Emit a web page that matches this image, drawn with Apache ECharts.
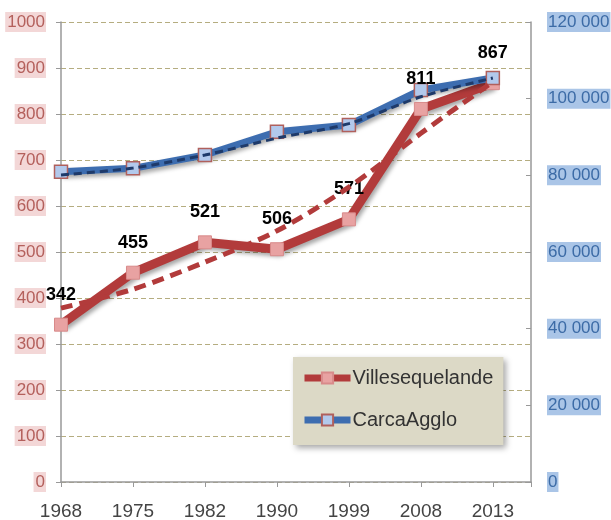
<!DOCTYPE html>
<html><head><meta charset="utf-8">
<script src="https://cdn.jsdelivr.net/npm/echarts@6/dist/echarts.min.js"></script>
<style>html,body{margin:0;padding:0;background:#fff}#c{width:611px;height:520px}</style>
</head><body><div id="c"></div>
<script>
var years = ['1968','1975','1982','1990','1999','2008','2013'];
var villeValues = [342, 455, 521, 506, 571, 811, 867];
var villeTrend = [378, 419, 478, 546, 641, 758, 870];
var aggloValues = [80950, 81830, 85300, 91380, 93130, 102260, 105390];
var aggloTrend = [80100, 81900, 85300, 89700, 93500, 100500, 105400];
var leftTicks = [0,100,200,300,400,500,600,700,800,900,1000];
var rightTicks = ['0','20 000','40 000','60 000','80 000','100 000','120 000'];

function pairs(arr){ return arr.map(function(v,i){ return [i, v]; }); }
var font = 'Liberation Sans';
var shadow = {shadowColor:'rgba(0,0,0,0.35)', shadowBlur:4, shadowOffsetX:2, shadowOffsetY:3};

var chart = echarts.init(document.getElementById('c'), null, {renderer:'canvas'});
chart.setOption({
  animation:false,
  backgroundColor:'#ffffff',
  grid:{left:61, right:80, top:22, bottom:38, outerBoundsMode:'none', containLabel:false},
  legend:{
    data:[
      {name:'Villesequelande', lineStyle:{width:7}},
      {name:'CarcaAgglo', lineStyle:{width:7}}
    ],
    orient:'vertical', left:293, top:357,
    padding:[11,10,15,8], itemGap:22, itemWidth:46, itemHeight:14,
    backgroundColor:'#dcd9c6',
    shadowColor:'rgba(0,0,0,0.35)', shadowBlur:6, shadowOffsetX:3, shadowOffsetY:3,
    textStyle:{fontFamily:font, fontSize:20, color:'#333', padding:[0,0,0,-3]}
  },
  xAxis:{
    type:'value', min:0, max:6.53, interval:1,
    axisLine:{lineStyle:{color:'#999', width:1.5}},
    axisTick:{length:5, lineStyle:{color:'#999'}},
    splitLine:{show:false},
    axisLabel:{margin:20, fontFamily:font, fontSize:19, color:'#444',
      formatter:function(v){ return (Math.abs(v-Math.round(v))<1e-6 && years[Math.round(v)]) ? years[Math.round(v)] : ''; }}
  },
  yAxis:[{
    type:'value', min:0, max:1000, interval:100, position:'left',
    axisLine:{show:true, lineStyle:{color:'#999', width:1.5}},
    axisTick:{show:true, length:5, lineStyle:{color:'#999'}},
    splitLine:{lineStyle:{color:'#b5ad80', type:[5,3], width:1.2}},
    axisLabel:{margin:15, fontFamily:font, fontSize:17, color:'#b4605c',
      backgroundColor:'#f3d7d7', padding:[2,1,1,2],
      formatter:function(v){ return leftTicks.indexOf(v) >= 0 ? String(v) : ''; }}
  },{
    type:'value', min:0, max:120000, interval:20000, position:'right',
    axisLine:{show:true, lineStyle:{color:'#999', width:1.5}},
    axisTick:{show:true, inside:true, length:5, lineStyle:{color:'#999'}},
    splitLine:{show:false},
    axisLabel:{margin:16, fontFamily:font, fontSize:17, color:'#3c6ba6',
      backgroundColor:'#aac5e7', padding:[2,1,1,1],
      formatter:function(v){ return rightTicks[Math.round(v/20000)] || ''; }}
  }],
  series:[{
    name:'Villesequelande', type:'line', yAxisIndex:0, z:3,
    data:pairs(villeValues),
    symbol:'rect', symbolSize:13,
    itemStyle:{color:'#e8a2a2', borderColor:'#d88a8a', borderWidth:1},
    lineStyle:Object.assign({color:'#b23b3b', width:9}, shadow),
    label:{show:true, position:'top', distance:14, fontFamily:font, fontSize:18, fontWeight:'bold', color:'#000'}
  },{
    name:'VilleTrend', type:'line', yAxisIndex:0, z:4,
    data:pairs(villeTrend), smooth:0.3, symbol:'none',
    lineStyle:{color:'#b23b3b', width:5, type:[12,7]}
  },{
    name:'CarcaAgglo', type:'line', yAxisIndex:1, z:3,
    data:pairs(aggloValues),
    symbol:'rect', symbolSize:13,
    itemStyle:{color:'#b2c9ec', borderColor:'#b0605c', borderWidth:1.5},
    lineStyle:Object.assign({color:'#3d6db0', width:7}, shadow)
  },{
    name:'AggloTrend', type:'line', yAxisIndex:1, z:4,
    data:pairs(aggloTrend), smooth:0.3, symbol:'none',
    lineStyle:{color:'#1e3a6a', width:3, type:[8,5]}
  }]
});
</script></body></html>
